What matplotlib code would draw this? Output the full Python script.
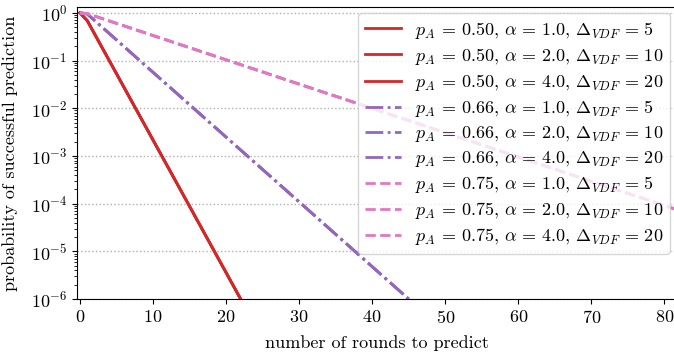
import matplotlib
matplotlib.use("Agg")
import matplotlib.pyplot as plt

plt.rcParams['font.family'] = 'serif'
plt.rcParams['font.serif'] = ['cmr10', 'DejaVu Serif']
plt.rcParams['mathtext.fontset'] = 'cm'
plt.rcParams['axes.formatter.use_mathtext'] = True
plt.rcParams['font.size'] = 13

# data
p_values = ["0.50", "0.66", "0.75"]
alphas = ["1.0", "2.0", "4.0"]
deltas = ["5", "10", "20"]

rounds_050 = [0, 1, 22]
prob_050 = [1.0, 0.69, 1e-6]
rounds_066 = [0, 1, 45]
prob_066 = [1.0, 0.95, 1e-6]
rounds_075 = [0, 1, 82]
prob_075 = [1.0, 0.965, 7.2e-5]

series = {
    "0.50": (rounds_050, prob_050),
    "0.66": (rounds_066, prob_066),
    "0.75": (rounds_075, prob_075),
}
colors = {"0.50": "#d62728", "0.66": "#9467bd", "0.75": "#e377c2"}
styles = {"0.50": "-", "0.66": "-.", "0.75": "--"}

fig = plt.figure(figsize=(6.74, 3.56), dpi=100)
ax = fig.add_axes([0.1142, 0.160, 0.889, 0.820])

for p in p_values:
    xs, ys = series[p]
    for a, d in zip(alphas, deltas):
        label = (r"$p_A \,=\, %s$, $\alpha \,=\, %s$, $\Delta_{VDF} \,=\, %s$"
                 % (p, a, d))
        ax.plot(xs, ys, color=colors[p], linestyle=styles[p], linewidth=2, label=label)

ax.set_yscale('log')
ax.set_ylim(1e-6, 1.32)
ax.set_xlim(-0.4, 81.6)
ax.set_xticks([0, 10, 20, 30, 40, 50, 60, 70, 80])
ax.yaxis.grid(True, which='major', linestyle=':', color='#b0b0b0', linewidth=1)
ax.set_axisbelow(True)
ax.set_xlabel("number of rounds to predict", labelpad=7)
ax.set_ylabel("probability of successful prediction", labelpad=9)
ax.legend(loc='upper right', fontsize=13, handlelength=2.0, labelspacing=0.28,
          borderpad=0.35, borderaxespad=0.35, handletextpad=0.8)

fig.savefig("out.png", dpi=100)
